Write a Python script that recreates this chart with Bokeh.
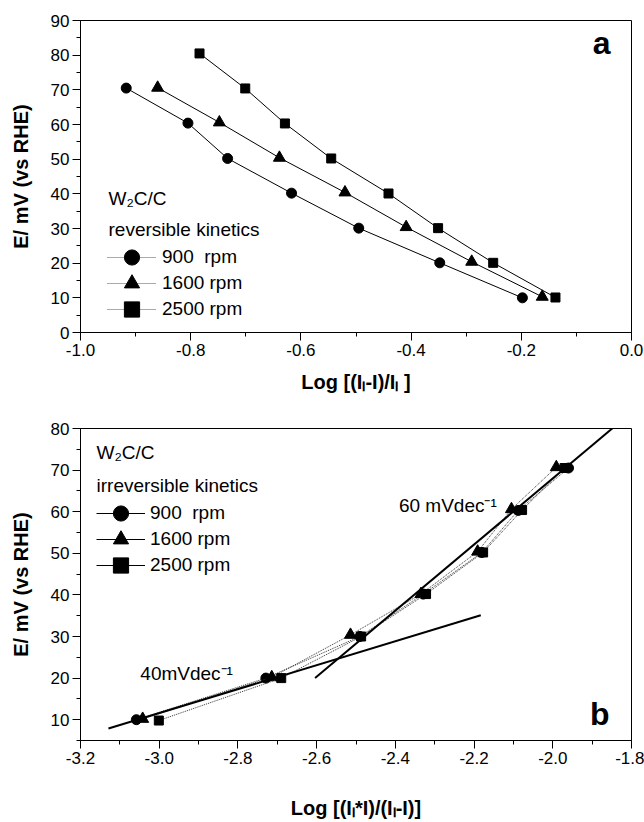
from bokeh.plotting import figure
from bokeh.models import (Range1d, SingleIntervalTicker, NumeralTickFormatter,
                          Legend, LegendItem, Label)
from bokeh.layouts import column
from bokeh.embed import file_html
from bokeh.resources import INLINE

FONT = "Liberation Sans"

# ---------------- data: panel a (reversible kinetics) ----------------
a_x_900 = [-0.917, -0.805, -0.733, -0.617, -0.495, -0.348, -0.198]
a_y_900 = [70.5, 60.4, 50.2, 40.2, 30.1, 20.1, 10.0]
a_x_1600 = [-0.860, -0.748, -0.639, -0.520, -0.409, -0.290, -0.162]
a_y_1600 = [70.6, 60.6, 50.4, 40.4, 30.4, 20.4, 10.3]
a_x_2500 = [-0.784, -0.701, -0.629, -0.545, -0.441, -0.351, -0.251, -0.138]
a_y_2500 = [80.5, 70.4, 60.3, 50.2, 40.1, 30.1, 20.1, 10.1]

# ---------------- data: panel b (irreversible kinetics) ----------------
b_x_900 = [-3.058, -2.729, -2.490, -2.329, -2.180, -2.088, -1.960]
b_y_900 = [10.0, 20.0, 30.0, 40.2, 50.2, 60.3, 70.5]
b_x_1600 = [-3.042, -2.714, -2.514, -2.335, -2.191, -2.105, -1.991]
b_y_1600 = [10.2, 20.2, 30.4, 40.2, 50.4, 60.6, 70.7]
b_x_2500 = [-3.001, -2.690, -2.487, -2.322, -2.177, -2.078, -1.970]
b_y_2500 = [9.8, 20.0, 30.0, 40.2, 50.2, 60.4, 70.5]

fit40_x = [-3.129, -2.183]
fit40_y = [7.9, 35.1]
fit60_x = [-2.604, -1.839]
fit60_y = [20.0, 80.8]

series_labels = ["900\u00a0 rpm", "1600 rpm", "2500 rpm"]
markers = ["circle", "triangle", "square"]
marker_sizes = [10, 12, 9]


def style(p, x_int, y_int, x_fmt, x_standoff):
    p.outline_line_color = "black"
    p.outline_line_width = 1
    p.outline_line_alpha = 1
    p.xgrid.visible = False
    p.ygrid.visible = False
    p.xaxis[0].ticker = SingleIntervalTicker(interval=x_int, num_minor_ticks=2)
    p.yaxis[0].ticker = SingleIntervalTicker(interval=y_int, num_minor_ticks=2)
    p.xaxis[0].formatter = NumeralTickFormatter(format=x_fmt)
    p.yaxis[0].formatter = NumeralTickFormatter(format="0")
    for ax in (p.xaxis[0], p.yaxis[0]):
        ax.axis_line_color = "black"
        ax.major_tick_line_color = "black"
        ax.minor_tick_line_color = "black"
        ax.major_tick_out = 8
        ax.major_tick_in = 0
        ax.minor_tick_out = 4
        ax.minor_tick_in = 0
        ax.major_label_text_font = FONT
        ax.major_label_text_font_size = "17px"
        ax.major_label_text_color = "black"
        ax.major_label_standoff = 3
        ax.axis_label_text_font = FONT
        ax.axis_label_text_font_style = "bold"
        ax.axis_label_text_font_size = "20px"
        ax.axis_label_text_color = "black"
    p.yaxis[0].axis_label_standoff = 16
    p.xaxis[0].axis_label_standoff = x_standoff


def add_legend(p, xs_list, ys_list, row_locs, title1, title2, title_pos,
               dash, line_color, standoff):
    # legend-only renderers: real series drawn against an off-screen range
    p.extra_x_ranges = {"legend_only": Range1d(100, 101)}
    for lab, mk, xs, ys, loc in zip(series_labels, markers, xs_list, ys_list, row_locs):
        lr = p.line(xs, ys, line_color=line_color, line_width=1, line_dash=dash,
                    x_range_name="legend_only")
        sr = p.scatter(xs, ys, marker=mk, fill_color="black", line_color="black",
                       x_range_name="legend_only")
        leg = Legend(items=[LegendItem(label=lab, renderers=[lr, sr])], location=loc,
                     orientation="vertical", glyph_width=49, glyph_height=38,
                     spacing=0, padding=0, margin=0, label_standoff=standoff,
                     border_line_color=None, background_fill_alpha=0,
                     label_text_font=FONT, label_text_font_size="19px",
                     label_text_color="black")
        p.add_layout(leg)
    (tx, ty1, ty2) = title_pos
    for t, ty in ((title1, ty1), (title2, ty2)):
        p.add_layout(Label(x=tx, y=ty, x_units="screen", y_units="screen", text=t,
                           text_font=FONT, text_font_size="19px", text_color="black",
                           text_baseline="middle"))


# ---------------- panel a ----------------
pa = figure(width=644, height=400, x_range=Range1d(-1.0, 0.0), y_range=Range1d(0, 90),
            output_backend="svg", toolbar_location=None,
            min_border_left=80, min_border_right=13, min_border_top=20, min_border_bottom=68,
            x_axis_label="Log [(Iₗ-I)/Iₗ ]", y_axis_label="E/ mV (vs RHE)")
style(pa, 0.2, 10, "0.0", 12)

for xs, ys, mk, sz in zip([a_x_900, a_x_1600, a_x_2500], [a_y_900, a_y_1600, a_y_2500],
                          markers, marker_sizes):
    pa.line(xs, ys, line_color="black", line_width=1)
    pa.scatter(xs, ys, marker=mk, size=sz, fill_color="black", line_color="black")

add_legend(pa, [a_x_900, a_x_1600, a_x_2500], [a_y_900, a_y_1600, a_y_2500],
           [(27, 56), (27, 30), (27, 4)],
           "W₂C/C", "reversible kinetics", (28, 134, 103), "1 1", "#555555", 6)
pa.add_layout(Label(x=530, y=290, x_units="screen", y_units="screen", text="a",
                    text_font=FONT, text_font_size="32px", text_font_style="bold",
                    text_align="right", text_baseline="middle", text_color="black"))

# ---------------- panel b ----------------
pb = figure(width=644, height=422, x_range=Range1d(-3.2, -1.8), y_range=Range1d(5, 80),
            output_backend="svg", toolbar_location=None,
            min_border_left=80, min_border_right=13, min_border_top=28, min_border_bottom=82,
            x_axis_label="Log [(Iₗ*I)/(Iₗ-I)]", y_axis_label="E/ mV (vs RHE)")
style(pb, 0.2, 10, "0.0", 30)

for xs, ys, mk, sz in zip([b_x_900, b_x_1600, b_x_2500], [b_y_900, b_y_1600, b_y_2500],
                          markers, marker_sizes):
    pb.line(xs, ys, line_color="#333333", line_width=1, line_dash="1 1")
    pb.scatter(xs, ys, marker=mk, size=sz, fill_color="black", line_color="black")

pb.line(fit40_x, fit40_y, line_color="black", line_width=2)
pb.line(fit60_x, fit60_y, line_color="black", line_width=2)

pb.add_layout(Label(x=-2.391, y=61.5, text="60 mVdec⁻¹", text_font=FONT,
                    text_font_size="19px", text_color="black", text_baseline="middle"))
pb.add_layout(Label(x=-3.048, y=21.0, text="40mVdec⁻¹", text_font=FONT,
                    text_font_size="19px", text_color="black", text_baseline="middle"))

add_legend(pb, [b_x_900, b_x_1600, b_x_2500], [b_y_900, b_y_1600, b_y_2500],
           [(16, 208), (16, 182), (16, 156)],
           "W₂C/C", "irreversible kinetics", (16, 288, 255), "solid", "black", 5)
pb.add_layout(Label(x=529, y=27, x_units="screen", y_units="screen", text="b",
                    text_font=FONT, text_font_size="32px", text_font_style="bold",
                    text_align="right", text_baseline="middle", text_color="black"))

layout = column(pa, pb, spacing=0)
open("out.html", "w").write(file_html(layout, INLINE))
